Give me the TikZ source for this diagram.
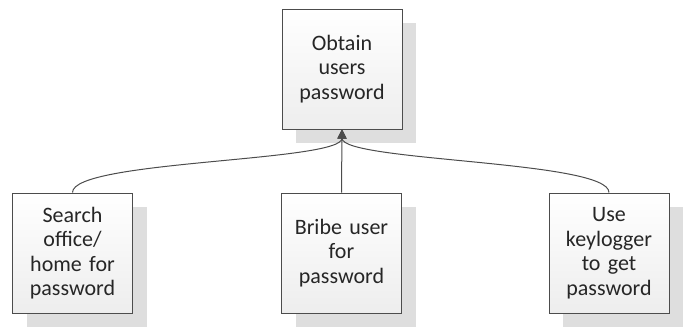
\documentclass[tikz,border=0pt]{standalone}
\usepackage{fontspec}
\setmainfont{Carlito}
\usetikzlibrary{arrows.meta,shadows}

\begin{document}
\begin{tikzpicture}[x=1pt, y=-1pt,
    main/.style = {draw=black!70, line width=1pt, top color=white, bottom color=black!7,
        minimum width=120pt, minimum height=120pt, text width=112pt, align=center,
        inner sep=0pt, text=black!85, font=\fontsize{22}{24.5}\selectfont,
        drop shadow={shadow xshift=14pt, shadow yshift=-14pt, fill=black!13, opacity=1}},
    link/.style = {draw=black!70, line width=1pt, -{Triangle[length=9pt,width=9pt]}}]
        \useasboundingbox (0,0) rectangle (690,327);

        \node[main] (obtain) at (342,69) {Obtain\\users\\password};
        \node[main] (search) at (72.5,253) {Search\\office/\\home for\\password};
        \node[main] (bribe) at (341.5,253) {Bribe user\\for\\password};
        \node[main] (keylog) at (609,253) {Use\\keylogger\\to get\\password};

        \draw[link] (search.north) to[out=90, in=-90, looseness=0.3] (obtain.south);
        \draw[link] (bribe.north) -- (obtain.south);
        \draw[link] (keylog.north) to[out=90, in=-90, looseness=0.3] (obtain.south);

    \end{tikzpicture}
\end{document}
